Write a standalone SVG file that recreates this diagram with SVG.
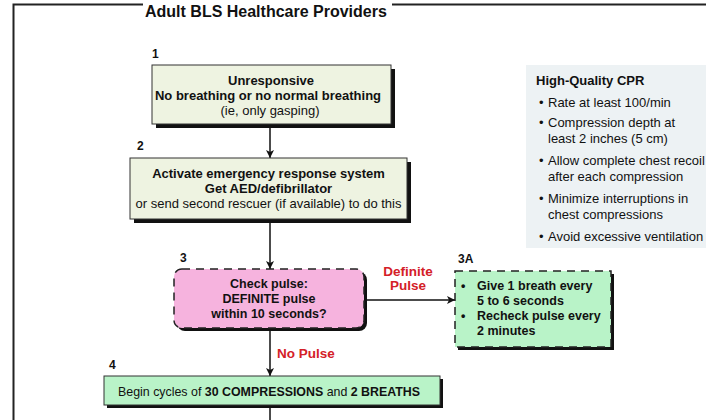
<svg xmlns="http://www.w3.org/2000/svg" width="706" height="420" viewBox="0 0 706 420">
<defs>
<marker id="ah" viewBox="0 0 10 10" refX="10" refY="5" markerWidth="8" markerHeight="8" markerUnits="userSpaceOnUse" orient="auto">
<path d="M0,0 L10,5 L0,10 L2.5,5 Z" fill="#111"/>
</marker>
<style>
text{font-family:"Liberation Sans",Arial,Helvetica,sans-serif;fill:#111}
.b{font-weight:bold}
.t13{font-size:13px}
.num{font-size:12px;font-weight:bold}
.red{fill:#d42027;font-weight:bold;font-size:13.5px}
.c{text-anchor:middle}
.conn{stroke:#111;stroke-width:1.5;fill:none}
.frame{stroke:#222;stroke-width:2;fill:none}
.shadow{fill:#111}
.solid{stroke:#333;stroke-width:1}
.dash{stroke:#222;stroke-width:1.5;stroke-dasharray:8 6}
.cream{fill:#eef3e1}
.green{fill:#b9f3c8}
.pink{fill:#f6b3de}
.panel{fill:#edf2f4}
.cpr{font-size:13px}
.n4{font-size:12.4px}
</style>
</defs>
<rect x="0" y="0" width="706" height="420" fill="#fff"/>
<g id="frame">
<path class="frame" d="M13.5,420 V4.5 H143 M392,4.5 H706"/>
<text class="b" x="145" y="17" style="font-size:16px">Adult BLS Healthcare Providers</text>
</g>
<g id="connectors">
<line class="conn" x1="270" y1="127" x2="270" y2="158" marker-end="url(#ah)"/>
<line class="conn" x1="270" y1="222" x2="270" y2="269" marker-end="url(#ah)"/>
<line class="conn" x1="270" y1="331" x2="270" y2="376" marker-end="url(#ah)"/>
<line class="conn" x1="367" y1="300" x2="455" y2="300" marker-end="url(#ah)"/>
<line class="conn" x1="270" y1="408" x2="270" y2="420"/>
<text class="red" x="408" y="276" text-anchor="middle">Definite</text>
<text class="red" x="408" y="290" text-anchor="middle">Pulse</text>
<text class="red" x="277" y="358">No Pulse</text>
</g>
<g id="node1">
<text class="num" x="152" y="58">1</text>
<rect class="shadow" x="156" y="69" width="239" height="59"/>
<rect class="cream solid" x="152" y="65" width="239" height="59"/>
<text class="t13 b c" x="271" y="85">Unresponsive</text>
<text class="t13 b c" x="268" y="100">No breathing or no normal breathing</text>
<text class="t13 c" x="270" y="115">(ie, only gasping)</text>
</g>
<g id="node2">
<text class="num" x="137" y="150">2</text>
<rect class="shadow" x="134" y="162" width="277" height="61"/>
<rect class="cream solid" x="130" y="158" width="277" height="61"/>
<text class="t13 b c" x="268.5" y="178">Activate emergency response system</text>
<text class="t13 b c" x="268.5" y="193">Get AED/defibrillator</text>
<text class="t13 c" x="268.5" y="208">or send second rescuer (if available) to do this</text>
</g>
<g id="node3">
<text class="num" x="180" y="262">3</text>
<rect class="shadow" x="177" y="272" width="190" height="59" rx="8"/>
<rect class="pink dash" x="174" y="269" width="190" height="59" rx="8"/>
<text class="b c" style="font-size:12.5px" x="269" y="288">Check pulse:</text>
<text class="b c" style="font-size:12.5px" x="269" y="303">DEFINITE pulse</text>
<text class="b c" style="font-size:12.5px" x="269" y="318">within 10 seconds?</text>
</g>
<g id="node3a">
<text class="num" x="458" y="263">3A</text>
<rect class="shadow" x="458" y="274" width="156" height="76"/>
<rect class="green dash" x="455" y="271" width="156" height="76"/>
<text class="b" style="font-size:12.5px" x="461" y="290">•</text>
<text class="b" style="font-size:12.5px" x="477" y="290">Give 1 breath every</text>
<text class="b" style="font-size:12.5px" x="477" y="305">5 to 6 seconds</text>
<text class="b" style="font-size:12.5px" x="461" y="320">•</text>
<text class="b" style="font-size:12.5px" x="477" y="320">Recheck pulse every</text>
<text class="b" style="font-size:12.5px" x="477" y="335">2 minutes</text>
</g>
<g id="node4">
<text class="num" x="109" y="369">4</text>
<rect class="shadow" x="107" y="379" width="336" height="29"/>
<rect class="green solid" x="104" y="376" width="336" height="29"/>
<text class="n4" x="118" y="396">Begin cycles of <tspan class="b">30 COMPRESSIONS</tspan> and <tspan class="b">2 BREATHS</tspan></text>
</g>
<g id="cpr-panel">
<rect class="panel" x="526" y="65" width="180" height="183"/>
<text class="b cpr" x="536" y="85">High-Quality CPR</text>
<text class="cpr" x="539" y="107">•</text>
<text class="cpr" x="548" y="107">Rate at least 100/min</text>
<text class="cpr" x="539" y="127">•</text>
<text class="cpr" x="548" y="127">Compression depth at</text>
<text class="cpr" x="548" y="143">least 2 inches (5 cm)</text>
<text class="cpr" x="539" y="165">•</text>
<text class="cpr" x="548" y="165">Allow complete chest recoil</text>
<text class="cpr" x="548" y="181">after each compression</text>
<text class="cpr" x="539" y="203">•</text>
<text class="cpr" x="548" y="203">Minimize interruptions in</text>
<text class="cpr" x="548" y="219">chest compressions</text>
<text class="cpr" x="539" y="241">•</text>
<text class="cpr" x="548" y="241">Avoid excessive ventilation</text>
</g>
</svg>
